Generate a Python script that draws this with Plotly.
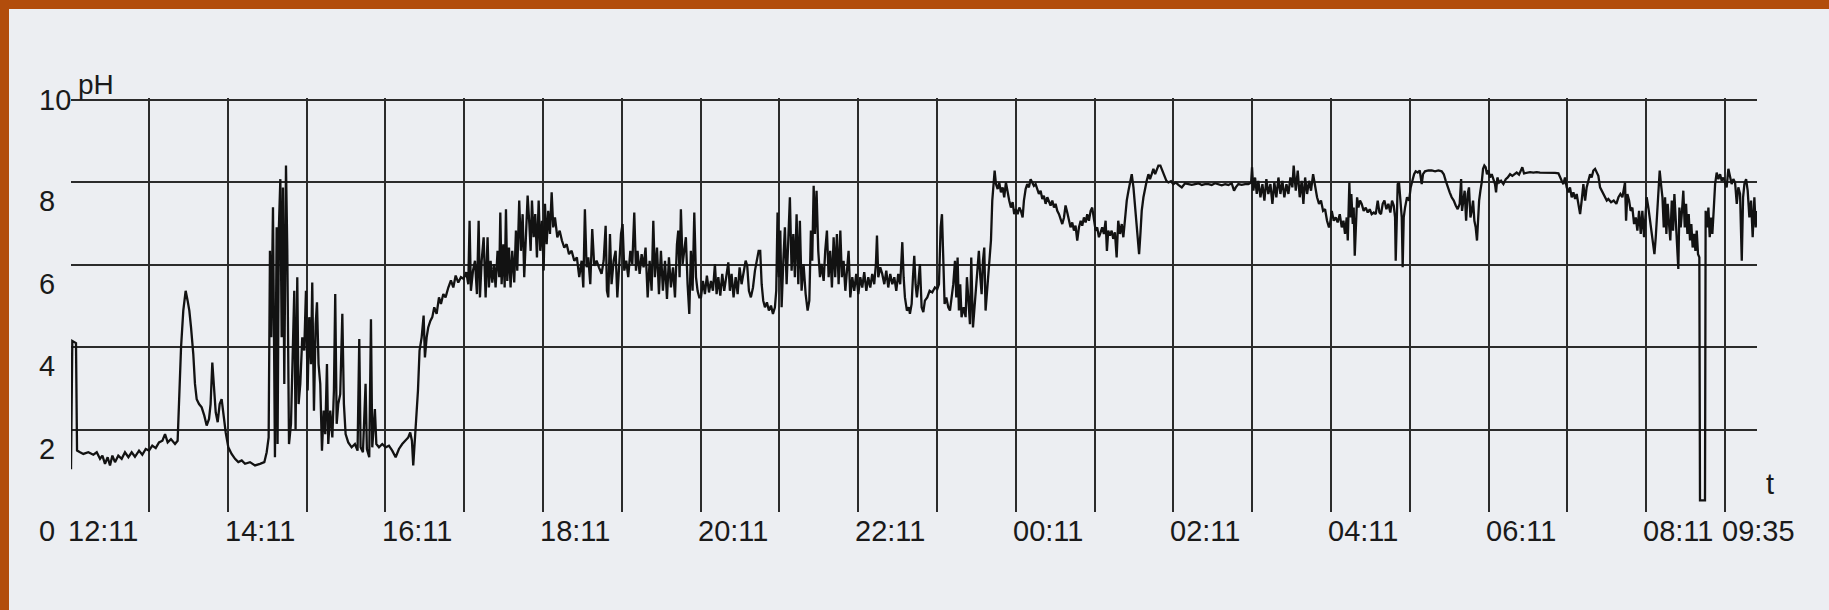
import plotly.graph_objects as go

# ---- data: (minutes after 12:11, pH) ----
block_1211 = [(0.6,1.04),(1.6,4.15),(4.4,4.1),(5.2,1.49),(7.5,1.45),(10,1.41),(13.8,1.45),(17.6,1.39),(20.2,1.45),(22.7,1.29),(24.5,1.37),(26.5,1.17),(28.5,1.33),(30.3,1.13),(32.1,1.37),(34.1,1.21),(36.6,1.37),(39.2,1.29),(41.7,1.45),(44.3,1.33),(46.8,1.45),(49.3,1.34),(52.4,1.49),(54.9,1.39),(57.5,1.53),(60,1.49),(62.5,1.61),(65.1,1.55),(67.6,1.69),(70.2,1.73),(72.2,1.89),(74.2,1.69),(76.7,1.77),(79.8,1.65),(81.8,1.73),(83.1,3.11),(84.4,4.0),(86.1,4.89),(87.9,5.37),(89.4,5.13),(90.7,4.89),(92,4.48),(93.7,3.84),(95,3.11),(96.3,2.74),(98.1,2.62),(100.1,2.54),(102.1,2.34),(103.9,2.1),(105.7,2.26),(106.9,2.62),(108.2,3.63),(109.5,3.11),(110.8,2.42),(112.3,2.18),(113.8,2.62),(115.3,2.74),(116.8,2.3),(118.4,1.93),(120.4,1.57),(122.9,1.41),(125.5,1.29),(128,1.21),(130.6,1.25),(133.1,1.17),(136.9,1.21),(140.7,1.13),(144.5,1.17),(147.8,1.21),(149.6,1.45),(151.1,1.81),(152.1,6.34),(153.1,4.24),(154.4,7.4),(155.4,1.65)]

block_1411 = [(155.9,1.33),(157.2,6.91),(157.9,1.65),(158.9,6.91),(160,8.08),(161,4.24),(162,7.88),(163,3.11),(164.3,8.41),(165.3,6.34),(166.6,1.65),(168.1,2.14),(169.4,3.51),(170.6,5.37),(171.6,2.0),(172.9,5.7),(173.9,2.62),(175.2,3.11),(176.7,4.24),(178.2,3.92),(179.5,5.37),(180.8,2.95),(182,4.73),(183.3,3.59),(184.3,5.57),(185.6,2.46),(186.9,4.56),(187.9,5.09),(189.1,3.59),(190.4,3.11),(191.7,1.49),(193,2.46),(194.2,1.89),(195.5,3.59),(196.5,1.65),(198,2.46),(199.6,1.81),(200.8,2.95),(201.8,5.29),(202.9,2.14),(204.1,2.62),(205.6,2.86),(207.2,4.81),(208.4,2.62),(209.7,1.89),(211.7,1.69),(214.3,1.57),(216.8,1.65),(218.8,1.49),(220.1,4.2),(221.1,1.57),(222.9,1.45),(224.9,3.11),(225.9,1.53),(227.7,1.33),(229,4.68),(230,1.57),(232,2.5),(233.1,1.65),(235.1,1.57),(237.6,1.65),(240.2,1.57),(242.7,1.61),(245.2,1.49),(247.8,1.33),(250.3,1.53),(252.8,1.65),(255.4,1.73),(257.4,1.81),(258.9,1.93),(260.2,1.73),(261.2,1.13),(262.2,1.65),(263.5,2.14),(264.8,2.95),(266,3.92),(267.6,4.24),(269.1,4.77),(270.1,3.75),(271.4,4.24),(272.6,4.48),(274.2,4.64),(275.7,4.73),(277.2,4.97),(279,4.81),(280.8,5.21),(282.3,5.05),(284.1,5.29),(285.8,5.21),(287.9,5.45),(289.9,5.62),(291.7,5.45),(293.5,5.74),(295.5,5.57),(297.5,5.7),(299.5,5.66),(301.6,5.82),(303.1,5.53),(304.1,7.07),(305.1,5.37),(306.7,5.86),(308.2,6.1),(309.7,5.29),(311,7.07),(312,5.21),(313.3,6.1),(314.8,6.67),(316.3,5.21)]

block_1611 = [(317.8,6.67),(318.8,5.45),(320.1,6.10),(321.4,5.57),(322.7,6.02),(323.9,5.45),(325.4,6.34),(326.7,5.70),(327.5,7.27),(328.5,5.53),(329.8,6.50),(330.8,5.45),(331.8,7.35),(332.8,5.61),(334.1,6.42),(335.3,5.45),(336.6,6.34),(338.1,5.57),(339.4,6.83),(340.4,5.86),(341.9,7.56),(343.2,6.34),(344.5,7.23),(345.7,5.70),(347.0,6.75),(348.3,7.68),(349.6,6.99),(350.6,6.34),(351.6,7.56),(352.9,6.67),(354.1,7.23),(355.4,6.18),(356.7,7.56),(357.9,6.34),(359.2,7.07),(360.5,5.86),(361.5,7.48),(362.8,6.50),(364.0,7.31),(365.3,6.75),(366.6,7.76),(367.8,6.91),(369.1,7.15),(370.9,6.67),(372.7,6.83),(374.4,6.59),(376.2,6.42),(378.0,6.50),(379.8,6.26),(381.8,6.34),(383.8,6.10),(385.8,6.18),(387.6,5.70),(389.4,6.10),(390.7,5.45),(391.9,7.35),(393.2,5.94),(394.5,6.18),(396.0,5.53),(397.5,6.87),(399.0,5.98),(400.8,6.10),(402.6,5.94),(404.6,5.78),(406.2,6.10),(407.7,6.95),(408.7,5.37),(409.7,5.21),(411.0,6.75),(412.2,5.53),(413.8,6.10),(415.3,6.34),(416.6,5.21),(417.8,6.02),(419.4,6.75),(420.6,6.99),(421.9,5.86),(423.4,6.10),(424.9,5.70),(426.5,6.34),(428.0,6.02),(429.5,7.27),(430.8,5.86),(432.0,6.34),(433.6,5.78),(435.1,6.26),(436.6,5.94),(438.1,6.42),(439.7,5.21),(441.2,6.10),(442.7,5.37),(444.0,7.07),(445.2,5.70),(446.8,6.42),(448.3,5.29),(449.8,6.34),(451.3,5.37),(452.9,6.10),(454.4,5.17),(455.9,6.18),(457.4,5.45),(459.0,5.94),(460.5,5.21),(462.0,6.50),(463.0,6.83),(464.0,5.70),(465.0,7.35),(466.3,6.02),(467.6,6.34),(468.8,6.67),(470.1,5.53),(471.4,4.81),(472.6,6.34),(473.9,5.37),(475.2,7.27),(476.5,5.70),(477.7,5.37),(479.0,5.21)]

block_1811 = [(480.3,5.21),(481.8,5.61),(483.3,5.29),(484.8,5.74),(486.4,5.33),(487.9,5.61),(489.4,5.37),(490.9,6.02),(492.2,5.29),(493.5,5.70),(495.0,5.25),(496.5,5.78),(498.0,5.37),(499.6,5.70),(501.1,6.06),(502.3,5.37),(503.6,5.78),(505.1,5.21),(506.7,5.70),(508.2,5.29),(509.7,5.94),(511.2,5.53),(512.8,5.86),(514.3,6.10),(515.5,5.98),(516.8,5.37),(518.3,5.21),(519.9,5.45),(521.4,5.86),(522.9,6.18),(524.2,6.34),(525.4,6.34),(526.5,5.53),(527.7,5.13),(529.0,4.97),(530.5,5.09),(532.0,4.89),(533.6,5.01),(535.1,4.81),(536.6,4.97),(537.6,5.37),(538.6,7.27),(539.7,5.70),(540.7,6.83),(541.7,4.97),(543.0,6.10),(544.2,6.91),(545.5,5.53),(546.8,6.50),(548.0,7.64),(549.3,5.86),(550.6,6.75),(551.8,5.70),(553.1,7.23),(554.4,5.53),(555.6,7.07),(556.9,5.37),(558.4,6.02),(560.0,5.29),(561.5,4.89),(562.8,5.13),(564.0,6.83),(565.0,6.10),(566.1,7.92),(567.1,6.75),(568.3,7.80),(569.6,6.34),(570.9,5.70),(572.1,6.02),(573.7,5.61),(574.9,6.34),(576.2,6.83),(577.5,5.70),(578.7,6.34),(580.0,5.45),(581.3,6.67),(582.5,5.70),(583.8,6.75),(585.1,5.53),(586.4,6.83),(587.6,5.70),(588.9,6.10),(590.2,5.37),(591.4,5.78),(592.7,6.34),(594.0,5.21),(595.5,5.70),(597.0,5.37),(598.5,5.78),(600.1,5.29),(601.6,5.70),(603.1,5.45),(604.6,5.82),(606.2,5.37),(607.7,5.70),(609.2,5.45),(610.7,5.78),(612.2,5.53),(613.5,6.02),(614.3,6.71),(615.3,5.70),(616.8,5.94),(618.3,5.78),(619.9,5.53),(621.4,5.86),(622.9,5.45),(624.4,5.78),(626.0,5.53),(627.5,5.70),(629.0,5.37),(630.5,5.78),(632.0,5.53),(633.6,6.55),(634.6,5.70),(635.6,5.21),(637.1,4.89),(638.6,4.97)]

block_2211 = [(639.4,4.81),(640.7,5.05),(641.7,5.70),(642.7,6.22),(643.7,5.53),(644.7,5.21),(645.8,5.53),(647.0,6.02),(648.3,4.97),(649.6,4.85),(650.8,5.13),(652.6,5.21),(654.4,5.37),(656.4,5.33),(658.4,5.45),(660.2,5.41),(661.5,5.53),(662.8,6.91),(663.8,7.23),(664.8,6.34),(665.8,5.05),(667.1,5.21),(668.6,4.97),(669.9,4.89),(671.1,5.21),(672.4,5.53),(673.7,6.10),(674.7,5.21),(675.7,6.18),(676.7,4.89),(677.7,5.53),(678.7,4.73),(680.3,4.97),(681.8,4.73),(682.8,5.70),(683.8,5.29),(685.1,4.56),(686.1,6.18),(687.4,4.48),(688.4,4.89),(689.7,5.37),(690.9,5.94),(691.9,6.34),(693.0,5.70),(694.0,5.29),(695.0,6.10),(696.0,6.42),(697.0,4.89),(698.0,5.37),(699.1,5.70),(700.1,6.34),(701.1,6.59),(702.1,7.56),(703.1,8.04),(703.9,8.29),(704.9,7.96),(706.2,7.84),(707.4,8.00),(708.7,7.76),(710.0,7.88),(711.2,7.64),(712.5,8.00),(713.8,7.72),(715.0,7.56),(716.3,7.39),(717.6,7.52),(718.8,7.23),(720.1,7.35),(721.4,7.23),(722.7,7.39),(723.9,7.31),(725.2,7.15),(726.2,7.56),(727.5,7.84),(728.7,7.96),(730.0,7.88),(731.3,8.08),(732.6,8.00),(733.8,7.92),(735.1,7.96),(736.4,7.80),(737.6,7.72),(738.9,7.80),(740.2,7.60),(741.4,7.68),(742.7,7.48),(744.0,7.64),(745.2,7.56),(746.5,7.44),(747.8,7.56),(749.1,7.39),(750.3,7.48),(751.6,7.31),(752.9,7.23),(754.1,7.11),(755.4,6.99),(756.7,7.15),(757.9,7.44),(759.2,7.27),(760.5,7.07),(761.7,6.91),(763.0,7.03),(764.3,6.83),(765.5,6.95),(766.8,6.59),(768.1,6.91),(769.4,7.07),(770.6,6.95),(771.9,7.15),(773.2,7.03),(774.4,7.23),(775.7,7.07),(777.0,7.31),(778.2,7.39),(779.5,7.07),(780.8,6.83),(782.0,6.91),(783.3,6.67),(784.6,6.79),(785.8,6.91),(787.1,6.75),(788.4,7.07),(789.4,6.34),(790.4,6.83),(791.7,6.71),(793.0,6.83),(794.2,6.63),(795.5,6.79),(796.8,6.18),(798.0,7.07)]

block_0211 = [(799.4,6.75),(800.7,6.99),(801.9,6.67),(803.2,7.23),(804.5,7.56),(805.8,7.80),(807.0,8.04),(808.3,8.20),(809.6,7.88),(810.8,7.39),(811.8,6.91),(812.9,6.50),(813.9,6.26),(814.9,6.75),(815.9,7.31),(817.2,7.64),(818.4,7.88),(819.7,8.04),(821.0,8.20),(822.2,8.08),(823.5,8.20),(824.8,8.33),(826.1,8.20),(827.3,8.33),(828.6,8.41),(830.1,8.41),(831.6,8.29),(833.2,8.16),(834.7,8.04),(836.2,8.00),(838.2,8.03),(840.0,7.96),(841.8,8.00),(843.8,7.94),(846.4,7.88),(848.9,7.98),(851.4,7.96),(854.0,7.94),(856.5,7.96),(859.1,7.98),(861.6,7.94),(864.1,7.96),(866.7,7.96),(869.2,7.94),(871.7,7.98),(874.3,7.96),(876.8,7.93),(879.4,7.96),(881.9,7.94),(884.4,7.98),(886.2,7.80),(887.5,7.88),(889.5,7.96),(892.0,7.94),(894.6,7.96),(897.1,7.96),(899.2,8.00),(899.9,8.37),(900.9,7.80),(902.2,8.12),(903.5,7.72),(904.7,8.04),(906.3,7.64),(907.8,7.96),(909.3,7.56),(910.8,8.08),(912.3,7.72),(913.9,7.96),(915.4,7.48),(916.9,8.00),(918.4,7.64),(920.0,8.12),(921.5,7.72),(923.0,8.04),(924.5,7.64),(926.1,7.96),(927.6,7.72),(929.1,8.12),(930.6,7.88),(931.6,8.41),(933.2,7.80),(934.7,8.29),(936.2,7.64),(937.7,8.04),(939.0,7.48),(940.3,8.12),(941.8,7.72),(943.3,8.04),(944.8,7.80),(946.4,8.20),(947.9,7.88),(949.4,7.64),(950.9,7.48),(952.4,7.56),(954.0,7.31),(955.5,7.35),(957.0,7.07),(958.5,6.91)]

block_0411 = [(959.3,6.99),(960.6,7.31),(962.1,7.07),(963.6,7.15),(965.1,7.03),(966.7,7.23),(968.2,6.91),(969.5,7.07),(970.7,6.75),(972.0,7.15),(972.8,6.59),(973.5,7.48),(974.0,8.00),(974.8,7.15),(975.5,7.72),(976.6,6.99),(977.3,7.39),(978.1,6.22),(978.8,6.91),(979.9,7.64),(980.9,7.39),(982.1,7.56),(983.4,7.48),(984.9,7.31),(986.5,7.39),(988.0,7.27),(989.5,7.35),(991.0,7.23),(992.6,7.27),(994.1,7.23),(995.6,7.56),(996.9,7.27),(998.1,7.23),(999.4,7.48),(1000.7,7.56),(1002.2,7.35),(1003.7,7.48),(1005.2,7.27),(1006.5,7.56),(1007.8,7.44),(1008.8,7.15),(1009.3,6.10),(1010.1,7.07),(1010.8,7.96),(1011.8,8.00),(1012.9,7.56),(1013.9,7.15),(1014.6,5.94),(1015.4,7.15),(1016.4,7.39),(1017.9,7.64),(1019.5,7.56),(1020.7,7.88),(1022.0,8.04),(1023.3,8.20),(1024.5,8.27),(1026.1,8.24),(1027.6,8.29),(1029.1,7.96),(1030.1,8.20),(1031.6,8.27),(1034.2,8.29),(1036.7,8.29),(1039.3,8.27),(1041.8,8.29),(1044.3,8.27),(1045.9,8.20),(1047.4,8.04),(1048.9,7.88),(1050.4,7.76),(1051.9,7.64),(1053.5,7.56),(1055.0,7.44),(1056.5,7.35),(1058.0,7.48),(1059.1,8.08),(1059.8,7.31),(1060.8,7.64),(1061.8,7.80),(1062.9,7.07),(1064.1,7.72),(1065.1,7.88),(1066.2,7.15),(1067.2,7.31),(1068.2,7.56),(1069.2,7.07),(1070.2,6.91),(1071.2,6.59),(1072.0,7.15),(1072.8,7.56),(1073.8,7.80),(1074.8,8.00),(1075.8,8.33),(1076.8,8.41),(1077.8,8.37),(1078.8,8.20),(1079.9,8.29),(1081.1,8.12),(1082.4,8.20),(1083.7,8.04),(1084.9,7.96),(1085.7,7.76),(1086.7,8.12),(1088.0,8.00),(1089.5,8.04),(1091.3,7.96),(1093.1,8.08),(1094.6,8.12),(1096.4,8.20),(1098.1,8.16),(1099.7,8.19),(1101.4,8.24),(1103.2,8.19),(1104.7,8.29),(1105.7,8.37),(1107.0,8.22),(1109.1,8.24),(1111.6,8.25),(1114.1,8.24),(1116.7,8.25),(1119.2,8.24)]

block_0611 = [(1120.5,8.24),(1124.3,8.24),(1126.8,8.24),(1130.6,8.23),(1133.2,8.22),(1134.4,8.12),(1135.7,8.04),(1137.0,7.96),(1138.2,8.12),(1139.5,7.88),(1140.8,7.76),(1142.0,7.88),(1143.3,7.64),(1144.6,7.76),(1145.9,7.60),(1147.1,7.72),(1148.4,7.48),(1149.7,7.23),(1150.9,7.56),(1152.2,7.96),(1153.5,7.56),(1154.7,7.88),(1156.0,8.04),(1157.3,8.20),(1158.5,8.12),(1159.8,8.29),(1161.1,8.33),(1162.4,8.24),(1163.6,8.16),(1164.9,7.88),(1166.2,7.80),(1167.4,7.72),(1168.7,7.64),(1170.0,7.56),(1171.2,7.60),(1173.3,7.52),(1175.3,7.56),(1177.3,7.48),(1178.9,7.64),(1180.4,7.72),(1181.9,7.64),(1183.2,7.88),(1183.9,8.00),(1184.7,7.07),(1185.7,7.72),(1187.0,7.56),(1188.2,7.31),(1189.5,7.39),(1190.8,6.99),(1192.1,7.15),(1193.3,6.83),(1194.6,7.31),(1195.9,6.75),(1197.1,7.31),(1198.4,6.67),(1199.4,7.15),(1200.4,7.64),(1201.7,7.39),(1203.0,7.07),(1204.2,6.75),(1205.5,6.50),(1206.3,6.26),(1207.3,6.67),(1208.3,7.15),(1209.3,7.80),(1210.3,8.29),(1211.3,7.96),(1212.4,7.64),(1213.4,6.91),(1214.4,7.64),(1215.4,6.75),(1216.4,7.48),(1217.4,6.99),(1218.4,6.59),(1219.5,7.56),(1220.5,6.83),(1221.5,7.72),(1222.5,7.15),(1223.5,6.75),(1224.5,5.90),(1225.3,7.39),(1226.3,6.91),(1227.3,7.31),(1228.3,7.80),(1229.4,6.91),(1230.4,7.48),(1231.4,6.75),(1232.4,7.23),(1233.4,6.59),(1234.4,6.99),(1235.4,6.42),(1236.5,6.75),(1237.5,6.34),(1238.5,6.83),(1239.5,6.26),(1240.5,6.18),(1241.0,0.28),(1244.8,0.28),(1245.3,7.31),(1246.4,6.91),(1247.4,7.39),(1248.4,6.67),(1249.4,7.15),(1250.4,6.75),(1251.4,7.31),(1252.5,7.96),(1253.7,8.24),(1255.0,8.08),(1256.3,8.20),(1257.5,8.04),(1258.8,8.12),(1260.1,7.96),(1261.3,7.88),(1262.6,8.33),(1263.9,8.12),(1265.1,7.96),(1266.4,8.08),(1267.7,8.00),(1269.0,7.48),(1270.2,7.88),(1271.5,7.72),(1272.8,6.10),(1273.8,7.64),(1274.8,7.96),(1276.1,8.08),(1277.3,7.80),(1278.6,7.15),(1279.9,7.56),(1281.1,6.67),(1282.4,7.64),(1283.4,6.91),(1284.2,7.31)]

hour_grid_min = [60 * k for k in range(1, 22)]          # 13:11 ... 09:11
time_label_min = [0.6, 120, 240, 360, 480, 600, 720, 840, 960, 1080, 1200, 1260]
time_labels = ["12:11", "14:11", "16:11", "18:11", "20:11", "22:11",
               "00:11", "02:11", "04:11", "06:11", "08:11", "09:35"]
ph_ticks = [0, 2, 4, 6, 8, 10]
ph_labels = ["0", "2", "4", "6", "8", "10"]

blocks = [block_1211, block_1411, block_1611, block_1811,
          block_2211, block_0211, block_0411, block_0611]
t_min = [p[0] for b in blocks for p in b]
ph = [p[1] for b in blocks for p in b]

W, H = 1829, 610
L, R, T, B = 71, 72, 98, 98
pw, ph_h = W - L - R, H - T - B

def px_x(px):
    return (px - L) / pw

def px_y(py):
    return (H - B - py) / ph_h

PAPER = "#eceef2"
GRID = "#2b2b2b"
INK = "#1a1a1a"
FONT = "Liberation Sans, Arial, sans-serif"

fig = go.Figure()
fig.add_trace(go.Scatter(x=t_min, y=ph, mode="lines",
                         line=dict(color="#121212", width=2.3),
                         hoverinfo="skip", showlegend=False))

ann = []
for m, lab in zip(time_label_min, time_labels):
    ann.append(dict(x=m, xref="x", y=px_y(531), yref="paper", text=lab,
                    xanchor="left", yanchor="middle", xshift=-5, showarrow=False,
                    font=dict(family=FONT, size=29, color=INK)))
for v, lab in zip(ph_ticks, ph_labels):
    shift = 0 if v == 10 else -19
    ann.append(dict(x=px_x(37), xref="paper", y=v, yref="y", yshift=shift,
                    text=lab, xanchor="left", yanchor="middle", showarrow=False,
                    font=dict(family=FONT, size=29, color=INK)))
ann.append(dict(x=px_x(76), xref="paper", y=px_y(84), yref="paper", text="pH",
                xanchor="left", yanchor="middle", showarrow=False,
                font=dict(family=FONT, size=28, color=INK)))
ann.append(dict(x=px_x(1770), xref="paper", y=px_y(484), yref="paper", text="t",
                xanchor="center", yanchor="middle", showarrow=False,
                font=dict(family=FONT, size=29, color=INK)))

ORANGE = "#b24d0c"
shapes = [
    dict(type="rect", xref="paper", yref="paper", x0=px_x(-5), x1=px_x(W + 5),
         y0=px_y(9), y1=px_y(-5), fillcolor=ORANGE, line=dict(width=0), layer="above"),
    dict(type="rect", xref="paper", yref="paper", x0=px_x(-5), x1=px_x(9),
         y0=px_y(H + 5), y1=px_y(-5), fillcolor=ORANGE, line=dict(width=0), layer="above"),
]

fig.update_layout(
    width=W, height=H,
    margin=dict(l=L, r=R, t=T, b=B, pad=0, autoexpand=False),
    paper_bgcolor=PAPER, plot_bgcolor=PAPER,
    annotations=ann, shapes=shapes, showlegend=False,
    xaxis=dict(range=[0.6, 1284.4], tickvals=hour_grid_min, showticklabels=False,
               showgrid=True, gridcolor=GRID, gridwidth=1.7, zeroline=False,
               showline=False, ticks=""),
    yaxis=dict(range=[0, 10.05], tickvals=[2, 4, 6, 8, 10], showticklabels=False,
               showgrid=True, gridcolor=GRID, gridwidth=1.6, zeroline=False,
               showline=False, ticks=""),
)

fig.write_html("out.html", config={"displayModeBar": False},
               post_script="document.body.style.margin='0';document.body.style.overflow='hidden';")
